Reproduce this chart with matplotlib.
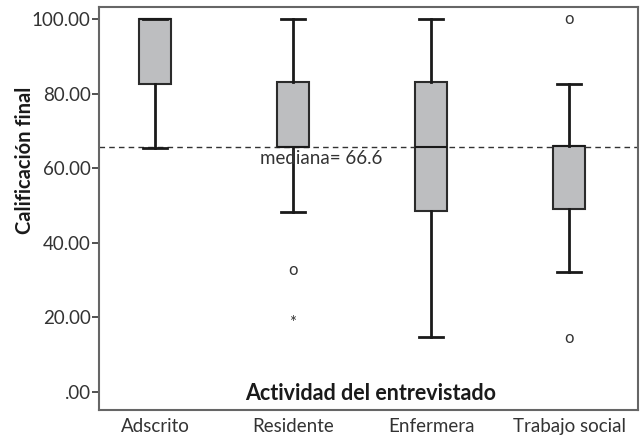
import matplotlib
matplotlib.use("Agg")
import matplotlib.pyplot as plt

# data
categorias = ["Adscrito", "Residente", "Enfermera", "Trabajo social"]
whis_lo = [65.5, 48.3, 14.8, 32.2]
q1 = [82.5, 65.7, 48.6, 49.0]
mediana = [100.0, 65.7, 65.7, 66.0]
q3 = [100.0, 83.0, 83.0, 66.0]
whis_hi = [100.0, 100.0, 100.0, 82.5]
atipicos = [[], [32.8], [], [100.0, 14.5]]
extremos = [[], [18.6], [], []]
mediana_global = 65.7
yticks = [0, 20, 40, 60, 80, 100]
ytick_labels = [".00", "20.00", "40.00", "60.00", "80.00", "100.00"]

plt.rcParams['font.family'] = ['Lato', 'DejaVu Sans']

fig = plt.figure(figsize=(6.44, 4.41), dpi=100)
ax = fig.add_axes([0.1537, 0.0703, 0.8370, 0.9137])

stats = []
for i in range(len(categorias)):
    stats.append(dict(whislo=whis_lo[i], q1=q1[i], med=mediana[i],
                      q3=q3[i], whishi=whis_hi[i], fliers=[]))
pos = list(range(1, len(categorias) + 1))
ax.bxp(stats, positions=pos, widths=0.23, capwidths=0.17, patch_artist=True,
       boxprops=dict(facecolor="#bdbec0", edgecolor="#2b2b2b", linewidth=1.5),
       whiskerprops=dict(color="#1a1a1a", linewidth=2),
       capprops=dict(color="#1a1a1a", linewidth=2),
       medianprops=dict(color="#1a1a1a", linewidth=1.5))

# outliers drawn as letters, like the source
for p, vals in zip(pos, atipicos):
    for v in vals:
        ax.text(p, v, "o", ha="center", va="center", fontsize=12, color="#333333")
for p, vals in zip(pos, extremos):
    for v in vals:
        ax.text(p, v, "*", ha="center", va="center", fontsize=12, color="#333333")

ax.axhline(mediana_global, color="#333333", linestyle=(0, (4, 3)), linewidth=1, zorder=0.5)
ax.text(2.65, mediana_global - 0.8, "mediana= 66.6", ha="right", va="top",
        fontsize=13.5, color="#333333")

ax.set_xlim(0.594, 4.5)
ax.set_ylim(-4.8, 103.2)
ax.set_yticks(yticks)
ax.set_yticklabels(ytick_labels)
ax.set_xticks(pos)
ax.set_xticklabels(categorias)
ax.tick_params(axis="y", length=5, width=1.2, color="#333333", labelsize=13.5,
               labelcolor="#333333", pad=1)
ax.tick_params(axis="x", length=0, labelsize=13.5, labelcolor="#333333", pad=6)
for s in ax.spines.values():
    s.set_color("#666666")
    s.set_linewidth(1.5)

ax.set_ylabel("Calificación final", fontsize=14.5, fontweight="bold", color="#1a1a1a")
ax.yaxis.set_label_coords(-0.118, 0.62)
ax.text(2.56, -0.3, "Actividad del entrevistado", ha="center", va="center",
        fontsize=15.5, fontweight="bold", color="#1a1a1a")

fig.savefig("out.png", dpi=100)
